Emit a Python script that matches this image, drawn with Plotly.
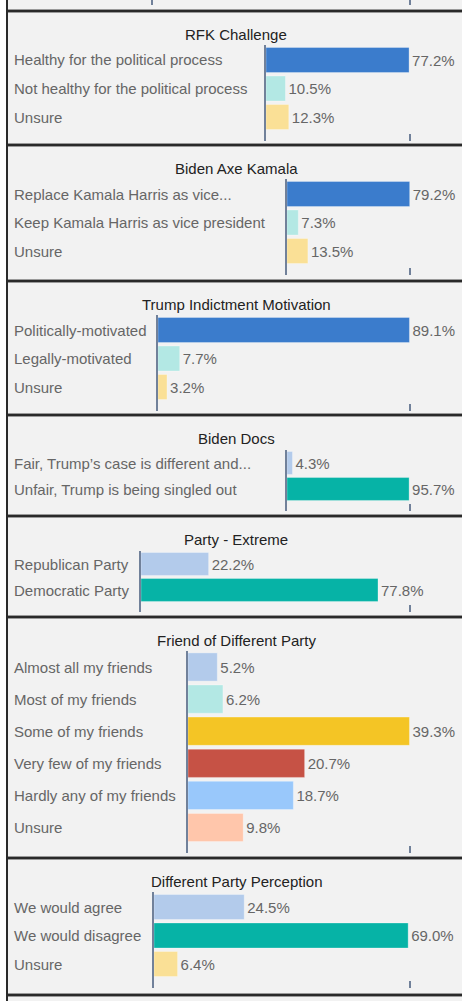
import plotly.graph_objects as go

# ---------------- data ----------------
titles = ["RFK Challenge", "Biden Axe Kamala", "Trump Indictment Motivation", "Biden Docs",
          "Party - Extreme", "Friend of Different Party", "Different Party Perception"]

rfk_labels = ["Healthy for the political process", "Not healthy for the political process", "Unsure"]
rfk_values = [77.2, 10.5, 12.3]

axe_labels = ["Replace Kamala Harris as vice...", "Keep Kamala Harris as vice president", "Unsure"]
axe_values = [79.2, 7.3, 13.5]

trump_labels = ["Politically-motivated", "Legally-motivated", "Unsure"]
trump_values = [89.1, 7.7, 3.2]

docs_labels = ["Fair, Trump\u2019s case is different and...", "Unfair, Trump is being singled out"]
docs_values = [4.3, 95.7]

extreme_labels = ["Republican Party", "Democratic Party"]
extreme_values = [22.2, 77.8]

friend_labels = ["Almost all my friends", "Most of my friends", "Some of my friends",
                 "Very few of my friends", "Hardly any of my friends", "Unsure"]
friend_values = [5.2, 6.2, 39.3, 20.7, 18.7, 9.8]

perception_labels = ["We would agree", "We would disagree", "Unsure"]
perception_values = [24.5, 69.0, 6.4]

# ---------------- style ----------------
W, H = 462, 1001
BLUE, CYAN, YEL, TEAL, LBLUE = "#3b7ccc", "#b3e8e4", "#fae096", "#06b3a6", "#b3cbeb"
GOLD, RED, SKY, PEACH = "#f4c525", "#c65245", "#99c8fb", "#ffc6ab"

panel_colors = [
    [BLUE, CYAN, YEL],
    [BLUE, CYAN, YEL],
    [BLUE, CYAN, YEL],
    [LBLUE, TEAL],
    [LBLUE, TEAL],
    [LBLUE, CYAN, GOLD, RED, SKY, PEACH],
    [LBLUE, TEAL, YEL],
]
panel_tops = [11, 145, 281, 415, 516, 617, 858]   # border line pixel positions
panel_x0 = [266, 287, 158, 287, 141, 188, 154]    # axis start (px)
panel_xmax = [77.7, 79.4, 89.3, 96.4, 88.3, 39.4, 69.5]
X_END = 410      # pixel of the axis-end tick
PAD = 3          # extra pixels of plot area beyond the end tick
BOTTOM_BORDER = 995

geom = {  # n categories -> (axis top offset, first center offset, slot, axis bottom offset)
    2: (35, 48, 26.0, 95.5),
    3: (33.5, 49, 28.5, 129.5),
    6: (34, 50, 32.1, 236),
}

LABEL_COLOR = "#666666"
AXIS_COLOR = "#71819a"
FONT = "Liberation Sans, Arial, sans-serif"

all_labels = [rfk_labels, axe_labels, trump_labels, docs_labels, extreme_labels, friend_labels, perception_labels]
all_values = [rfk_values, axe_values, trump_values, docs_values, extreme_values, friend_values, perception_values]


def py(p):
    return 1 - p / H


fig = go.Figure()
layout = dict(
    width=W, height=H, margin=dict(l=0, r=0, t=0, b=0),
    paper_bgcolor="#f2f2f2", plot_bgcolor="rgba(0,0,0,0)",
    showlegend=False, bargap=0.12,
    font=dict(family=FONT, size=15, color=LABEL_COLOR),
)
annotations = []
shapes = []


def x_axis(x0, xmax, anchor):
    ppu = (X_END - x0) / xmax
    return dict(
        domain=[x0 / W, (X_END + PAD) / W], range=[0, xmax + PAD / ppu], anchor=anchor,
        showgrid=False, zeroline=False, showline=False, showticklabels=False,
        tickmode="array", tickvals=[xmax], ticks="inside", ticklen=7,
        tickwidth=2, tickcolor=AXIS_COLOR, fixedrange=True,
    )


for i, (labels, values) in enumerate(zip(all_labels, all_values)):
    k = i + 1
    sfx = "" if k == 1 else str(k)
    n = len(labels)
    yto, c0o, slot, ybo = geom[n]
    B = panel_tops[i]
    top_val = -(c0o - yto) / slot
    bottom_val = (n - 1) + (ybo - (c0o + (n - 1) * slot)) / slot

    fig.add_trace(go.Bar(
        x=values, y=labels, orientation="h",
        xaxis="x" + sfx, yaxis="y" + sfx,
        marker=dict(color=panel_colors[i], line=dict(width=1, color="rgba(255,255,255,0.3)")),
        texttemplate="%{x:.1f}%", textposition="outside",
        textfont=dict(family=FONT, size=15, color=LABEL_COLOR),
        constraintext="none", cliponaxis=False, hoverinfo="skip",
    ))
    layout["xaxis" + sfx] = x_axis(panel_x0[i], panel_xmax[i], "y" + sfx)
    layout["yaxis" + sfx] = dict(
        domain=[py(B + ybo), py(B + yto)], range=[bottom_val, top_val], type="category",
        anchor="x" + sfx, showgrid=False, zeroline=False, showline=True,
        linecolor=AXIS_COLOR, linewidth=2, showticklabels=False, ticks="", fixedrange=True,
    )
    annotations.append(dict(
        text=titles[i], xref="paper", yref="paper", x=236 / W, y=py(B + 23.5),
        xanchor="center", yanchor="middle", showarrow=False,
        font=dict(family=FONT, size=15, color="#222222"),
    ))
    for lab in labels:
        annotations.append(dict(
            text=lab, xref="paper", yref="y" + sfx, x=12 / W, y=lab,
            xanchor="left", yanchor="middle", showarrow=False,
            font=dict(family=FONT, size=15, color=LABEL_COLOR),
        ))

# partial panel at the very top (bottom edge of the previous chart)
fig.add_trace(go.Bar(x=[], y=[], orientation="h", xaxis="x8", yaxis="y8", hoverinfo="skip"))
layout["xaxis8"] = x_axis(153, 1.0, "y8")
layout["yaxis8"] = dict(
    domain=[py(4.5), 1], range=[0, 1], anchor="x8", showgrid=False, zeroline=False,
    showline=True, linecolor=AXIS_COLOR, linewidth=2, showticklabels=False, fixedrange=True,
)

# white strip at the far left, then frame lines
shapes.append(dict(type="rect", xref="paper", yref="paper", x0=0, x1=6 / W, y0=0, y1=1,
                   fillcolor="white", line=dict(width=0), layer="above"))
for b in panel_tops + [BOTTOM_BORDER]:
    shapes.append(dict(type="line", xref="paper", yref="paper", x0=7 / W, x1=1, y0=py(b), y1=py(b),
                       line=dict(color="#9a9a9a", width=4)))
    shapes.append(dict(type="line", xref="paper", yref="paper", x0=7 / W, x1=1, y0=py(b), y1=py(b),
                       line=dict(color="#2a2a2a", width=2)))
shapes.append(dict(type="line", xref="paper", yref="paper", x0=7 / W, x1=7 / W, y0=0, y1=1,
                   line=dict(color="#2a2a2a", width=2)))

layout["annotations"] = annotations
layout["shapes"] = shapes
fig.update_layout(**layout)
fig.write_html(
    "out.html",
    config={"displayModeBar": False},
    post_script="document.body.style.margin='0';document.body.style.padding='0';"
                "document.body.style.overflow='hidden';",
)
